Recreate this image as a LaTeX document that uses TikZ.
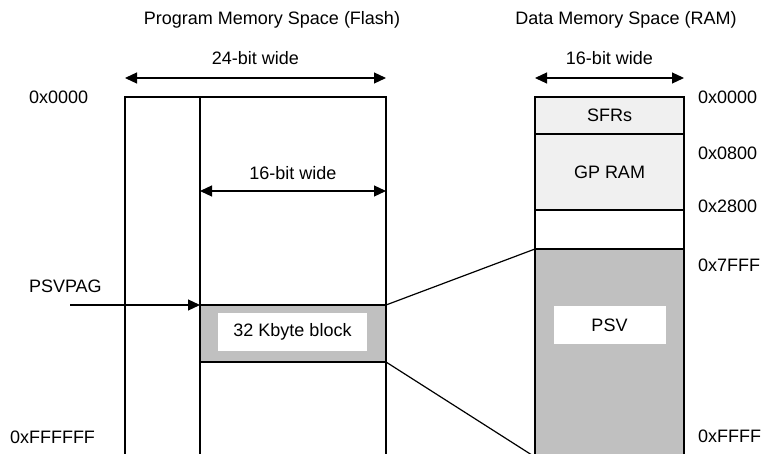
\documentclass[tikz,border=0pt]{standalone}
\usepackage{fontspec}
\setmainfont{Liberation Sans}
\usetikzlibrary{arrows.meta}
\definecolor{lightfill}{RGB}{240,240,240}
\definecolor{psvgray}{RGB}{192,192,192}
\begin{document}
\begin{tikzpicture}[x=1pt,y=-1pt,
  every node/.style={font=\fontsize{18}{21}\selectfont, inner sep=0pt, outer sep=0pt},
  region/.style={draw=black, line width=1.2pt, rectangle, anchor=north west},
  labelbox/.style={fill=white, rectangle},
  dim/.style={{Triangle[length=12pt,width=11pt]}-{Triangle[length=12pt,width=11pt]}, line width=1.2pt},
  pointer/.style={-{Triangle[length=12pt,width=11pt]}, line width=1.2pt},
  link/.style={line width=1.2pt}
]
\useasboundingbox (0,0) rectangle (763,454);
\clip (0,0) rectangle (763,454);

% titles
\node (ptitle) at (272,20) {Program Memory Space (Flash)};
\node (dtitle) at (626,20) {Data Memory Space (RAM)};

% program memory
\node[region, minimum width=261pt, minimum height=370pt] (flash) at (125,97) {};
\node[region, minimum width=186pt, minimum height=370pt] (col) at (200,97) {};
\node[region, fill=psvgray, minimum width=186pt, minimum height=57pt] (block) at (200,305) {};
\node[labelbox, minimum width=149pt, minimum height=38pt] (blocklabel) at (292.5,332) {32 Kbyte block};

\draw[dim] ([yshift=19pt]flash.north west) -- ([yshift=19pt]flash.north east)
  node[midway, yshift=20pt] (w24) {24-bit wide};
\draw[dim] ([yshift=-94pt]col.north west) -- ([yshift=-94pt]col.north east)
  node[midway, yshift=18pt] (w16a) {16-bit wide};

\node[anchor=west] (pa0) at (29,97.5) {0x0000};
\node[anchor=west] (psvpag) at (29,286) {PSVPAG};
\node[anchor=west] (paF) at (10,437) {0xFFFFFF};
\coordinate (pstart) at (70,305);
\draw[pointer] (pstart) -- (block.north west);

% data memory
\node[region, fill=lightfill, minimum width=149pt, minimum height=37pt] (sfr) at (535,97) {};
\node at (sfr.center) (sfrt) {SFRs};
\node[region, fill=lightfill, minimum width=149pt, minimum height=76pt] (gpram) at (535,134) {};
\node at (gpram.center) (gpt) {GP RAM};
\node[region, minimum width=149pt, minimum height=39pt] (gap) at (535,210) {};
\node[region, fill=psvgray, minimum width=149pt, minimum height=215pt] (psv) at (535,249) {};
\node[labelbox, minimum width=112pt, minimum height=38pt] (psvlabel) at (609.5,325) {PSV};

\draw[dim] ([yshift=19pt]sfr.north west) -- ([yshift=19pt]sfr.north east)
  node[midway, yshift=20pt] (w16b) {16-bit wide};

\node[anchor=west] (d0) at (698,97) {0x0000};
\node[anchor=west] (d1) at (698,153) {0x0800};
\node[anchor=west] (d2) at (698,206.5) {0x2800};
\node[anchor=west] (d3) at (698,265) {0x7FFF};
\node[anchor=west] (d4) at (698,436.5) {0xFFFF};

% mapping lines
\coordinate (lowend) at (535,457);
\draw[link] (block.north east) -- (psv.north west);
\draw[link] (block.south east) -- (lowend);
\end{tikzpicture}
\end{document}
